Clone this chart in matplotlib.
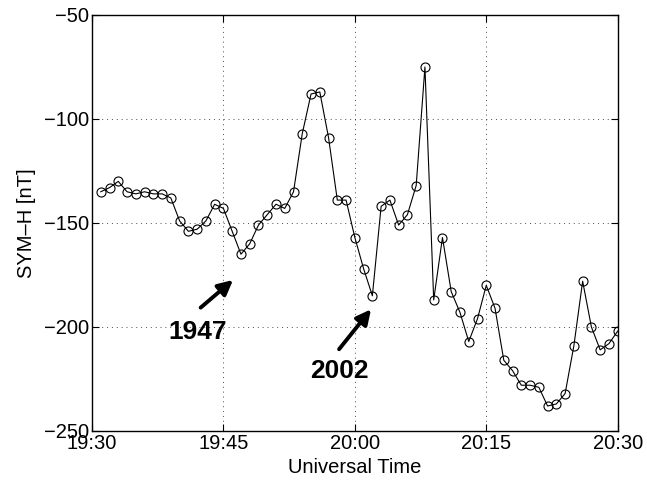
import matplotlib
matplotlib.use("Agg")
import matplotlib.pyplot as plt

plt.rcParams['font.family'] = ['Liberation Sans', 'DejaVu Sans']

# minutes after 19:30 UT (one-minute SYM-H)
minutes = list(range(1, 61))
symh = [-135, -133, -130, -135, -136, -135, -136, -136, -138, -149,
        -154, -153, -149, -141, -143, -154, -165, -160, -151, -146,
        -141, -143, -135, -107, -88, -87, -109, -139, -139, -157,
        -172, -185, -142, -139, -151, -146, -132, -75, -187, -157,
        -183, -193, -207, -196, -180, -191, -216, -221, -228, -228,
        -229, -238, -237, -232, -209, -178, -200, -211, -208, -202]

xticks = [0, 15, 30, 45, 60]
xticklabels = ['19:30', '19:45', '20:00', '20:15', '20:30']
yticks = [-250, -200, -150, -100, -50]

# annotations: label, arrow tip, arrow tail, text position
events = ['1947', '2002']
arrow_tip = [(16.1, -177.4), (31.85, -191.5)]
arrow_tail = [(12.4, -190.7), (28.2, -210.7)]
text_pos = [(12.1, -202.3), (28.25, -221.3)]

fig = plt.figure(figsize=(6.47, 4.83), dpi=100)
ax = fig.add_axes([0.1422, 0.1077, 0.8125, 0.8613])

ax.plot(minutes, symh, '-', color='black', linewidth=0.8,
        marker='o', markersize=6.5, markerfacecolor='none',
        markeredgecolor='black', markeredgewidth=0.8)

for lab, tip, tail, pos in zip(events, arrow_tip, arrow_tail, text_pos):
    ax.annotate('', xy=tip, xytext=tail,
                arrowprops=dict(arrowstyle='-|>', color='black', lw=2.8,
                                mutation_scale=22, shrinkA=0, shrinkB=0))
    ax.text(pos[0], pos[1], lab, fontsize=19, fontweight='bold',
            ha='center', va='center')

ax.set_xlim(0, 60)
ax.set_ylim(-250, -50)
ax.set_xticks(xticks)
ax.set_xticklabels(xticklabels)
ax.set_yticks(yticks)
ax.tick_params(axis='both', direction='in', labelsize=14.5, length=5,
               top=True, right=True, pad=2)
ax.grid(True, linestyle=(0, (1, 4)), color='black', linewidth=0.7, alpha=0.7)
for s in ax.spines.values():
    s.set_linewidth(1.0)

ax.set_xlabel('Universal Time', fontsize=14.5, labelpad=4)
ax.set_ylabel('SYM\u2013H [nT]', fontsize=14.5, labelpad=6)

plt.savefig('out.png', dpi=100)
